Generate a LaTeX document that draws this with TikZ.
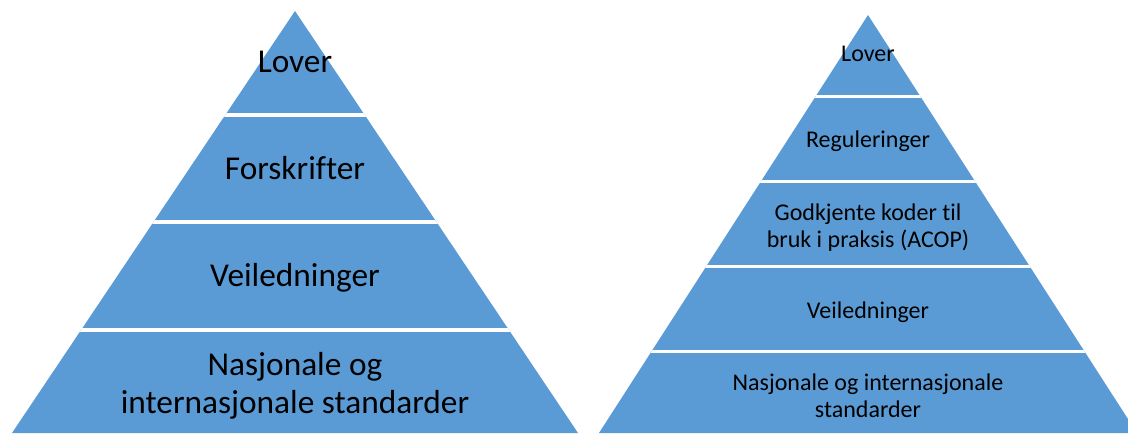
\documentclass[tikz,border=0pt]{standalone}
\usepackage{fontspec}
\setmainfont[Ligatures=NoCommon]{Carlito}
\definecolor{pyr}{HTML}{5B9BD5}
\begin{document}
\begin{tikzpicture}[x=0.75pt,y=-0.75pt,
  big/.style={font=\fontsize{25}{28.5}\selectfont, align=center, text=black, inner sep=0pt},
  small/.style={font=\fontsize{18}{20.25}\selectfont, align=center, text=black, inner sep=0pt},
  sepbig/.style={white, line width=3pt},
  sepsmall/.style={white, line width=2.25pt}]
\useasboundingbox (0,0) rectangle (1128,433);
\clip (0,0) rectangle (1128,433);
% left pyramid
\fill[pyr] (295,11) -- (12,433) -- (578,433) -- cycle;
\begin{scope}
  \clip (295,11) -- (12,433) -- (578,433) -- cycle;
  \draw[sepbig] (0,115) -- (600,115);
  \draw[sepbig] (0,222) -- (600,222);
  \draw[sepbig] (0,330) -- (600,330);
\end{scope}
% right pyramid
\fill[pyr] (868,15) -- (599,433) -- (1137,433) -- cycle;
\begin{scope}
  \clip (868,15) -- (599,433) -- (1137,433) -- cycle;
  \draw[sepsmall] (590,96.5) -- (1140,96.5);
  \draw[sepsmall] (590,181.5) -- (1140,181.5);
  \draw[sepsmall] (590,266.5) -- (1140,266.5);
  \draw[sepsmall] (590,351.5) -- (1140,351.5);
\end{scope}
% left labels
\node[big] (l1) at (295,62) {Lover};
\node[big] (l2) at (295,168) {Forskrifter};
\node[big] (l3) at (295,278) {Veiledninger};
\node[big] (l4) at (295,386) {Nasjonale og\\internasjonale standarder};
% right labels
\node[small] (r1) at (868,54) {Lover};
\node[small] (r2) at (868,141) {Reguleringer};
\node[small] (r3) at (868,228) {Godkjente koder til\\bruk i praksis (ACOP)};
\node[small] (r4) at (868,312) {Veiledninger};
\node[small] (r5) at (868,396) {Nasjonale og internasjonale\\standarder};
\end{tikzpicture}
\end{document}
